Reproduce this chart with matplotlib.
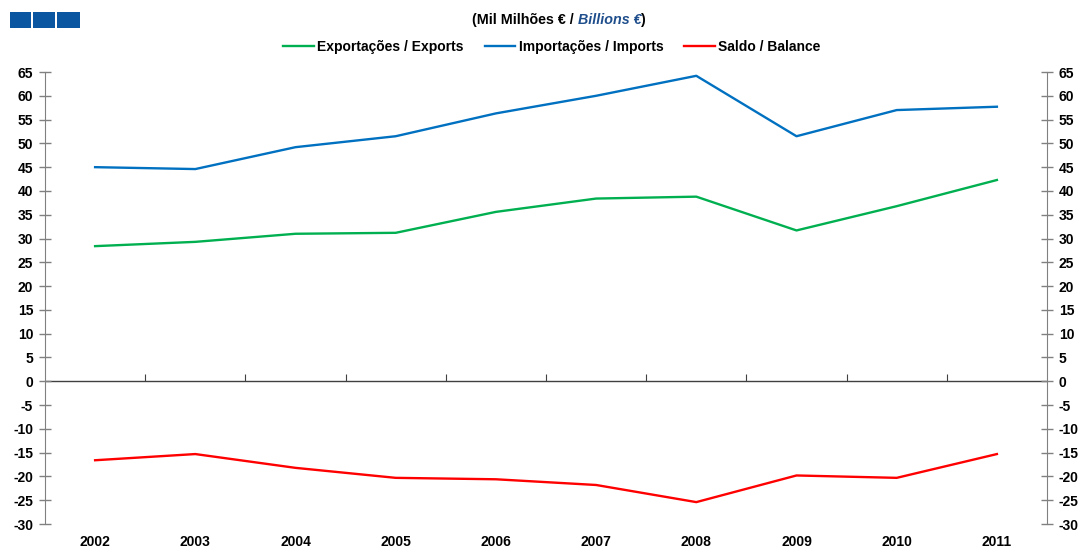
import numpy as np
import matplotlib.pyplot as plt
from matplotlib.patches import Rectangle

plt.rcParams['font.family'] = ['Liberation Sans', 'DejaVu Sans']
plt.rcParams['font.weight'] = 'bold'
plt.rcParams['axes.unicode_minus'] = False

# Data (Mil Milhões € / Billions €)
years = ['2002', '2003', '2004', '2005', '2006', '2007', '2008', '2009', '2010', '2011']
exports = [28.4, 29.3, 31.0, 31.2, 35.6, 38.4, 38.8, 31.7, 36.8, 42.3]
imports = [45.0, 44.6, 49.2, 51.5, 56.3, 60.0, 64.2, 51.5, 57.0, 57.7]
balance = [-16.6, -15.3, -18.2, -20.3, -20.6, -21.8, -25.4, -19.8, -20.3, -15.3]

labels = ['Exportações / Exports', 'Importações / Imports', 'Saldo / Balance']
colors = ['#00b050', '#0070c0', '#ff0000']

W, H = 1088, 550
fig = plt.figure(figsize=(W / 100, H / 100), dpi=100)
ax = fig.add_axes([45 / W, 1 - 524 / H, (1047 - 45) / W, (524 - 72) / H])

x = np.arange(len(years))
for vals, lab, c in zip([exports, imports, balance], labels, colors):
    ax.plot(x, vals, color=c, lw=1.7, label=lab)

ax.set_xlim(-0.5, len(years) - 0.5)
ax.set_ylim(-30, 65)
ax.set_yticks(np.arange(-30, 66, 5))
ax.tick_params(axis='y', which='both', direction='inout', length=9, width=1,
               color='#808080', right=True, labelright=True, labelsize=10, pad=4)
for side in ['left', 'right']:
    ax.spines[side].set_color('#808080')
for side in ['top', 'bottom']:
    ax.spines[side].set_visible(False)

ax.set_xticks(x)
ax.set_xticklabels(years)
ax.tick_params(axis='x', length=0, labelsize=10, pad=8)

# zero line with category boundary ticks
ax.axhline(0, color='#404040', lw=1, zorder=1)
sec = ax.secondary_xaxis(30 / 95)
sec.set_xticks(np.arange(0.5, len(years) - 1, 1))
sec.tick_params(axis='x', direction='in', length=5, color='#404040', labelbottom=False)
sec.spines['bottom'].set_visible(False)

for lab in ax.get_yticklabels() + ax.get_xticklabels():
    lab.set_fontweight('bold')

# legend
fig.legend(loc='center', bbox_to_anchor=(552 / W, 1 - 47 / H), ncol=3, frameon=False,
           fontsize=10, handlelength=2.2, handletextpad=0.25, columnspacing=1.5)

# title in three pieces
renderer = fig.canvas.get_renderer()
ty = 1 - 20 / H
t1 = fig.text(472 / W, ty, '(Mil Milhões € / ', ha='left', va='center',
              fontsize=10.3, fontweight='bold')
x1 = t1.get_window_extent(renderer).x1
t2 = fig.text(x1 / W, ty, 'Billions €', ha='left', va='center', fontsize=10.3,
              fontweight='bold', style='italic', color='#1f4e8c')
x2 = t2.get_window_extent(renderer).x1
fig.text(x2 / W, ty, ')', ha='left', va='center', fontsize=10.3, fontweight='bold')

# logo squares
for x0, w0 in [(10, 21), (33, 22), (57, 23)]:
    fig.patches.append(Rectangle((x0 / W, 1 - 28 / H), w0 / W, 16 / H,
                                 transform=fig.transFigure, color='#0b56a0', lw=0))

fig.savefig('out.png', dpi=100)
